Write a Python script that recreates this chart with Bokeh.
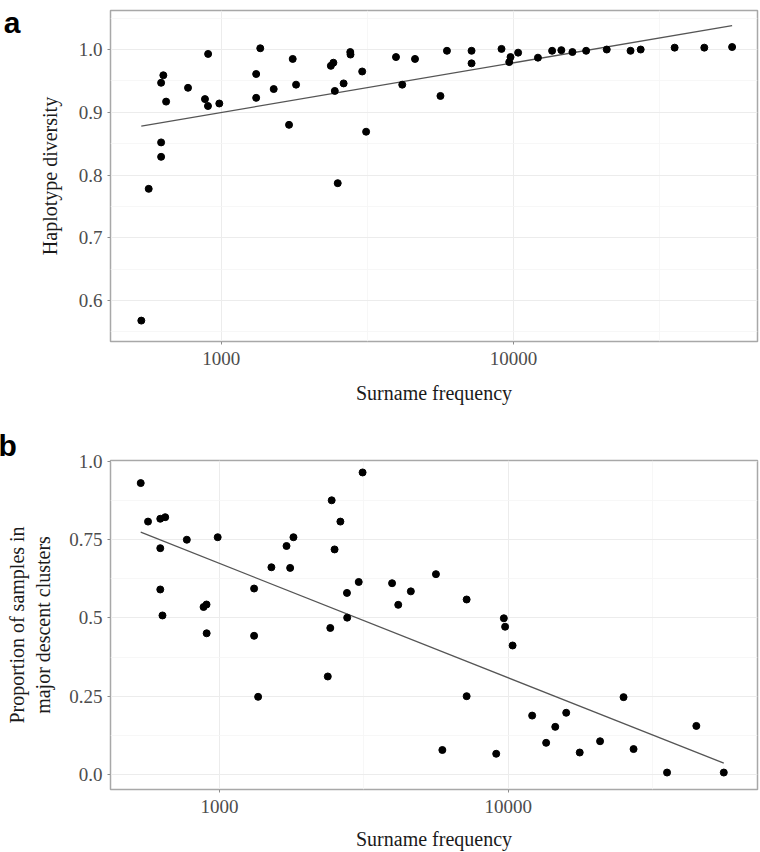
from bokeh.plotting import figure
from bokeh.models import Range1d, FixedTicker, BasicTickFormatter, LinearAxis, Title
from bokeh.layouts import column
from bokeh.embed import file_html
from bokeh.resources import INLINE

# ---------------- data ----------------
surname_freq = [533, 565, 623, 623, 623, 634, 648, 770, 880, 901, 902, 985,
                1317, 1317, 1360, 1512, 1706, 1756, 1803, 2371, 2419, 2446,
                2503, 2622, 2763, 2768, 3035, 3130, 3960, 4160, 4600, 5620,
                5915, 7180, 7180, 9090, 9660, 9760, 10360, 12110, 13540,
                14560, 15890, 17700, 20820, 25110, 27200, 35530, 44880, 55870]

haplotype_diversity = [0.568, 0.778, 0.947, 0.852, 0.829, 0.959, 0.917, 0.939,
                       0.921, 0.910, 0.993, 0.914, 0.961, 0.923, 1.002, 0.937,
                       0.880, 0.985, 0.944, 0.974, 0.979, 0.934, 0.787, 0.946,
                       0.996, 0.992, 0.965, 0.869, 0.988, 0.944, 0.985, 0.926,
                       0.998, 0.998, 0.978, 1.001, 0.980, 0.988, 0.995, 0.987,
                       0.998, 0.999, 0.996, 0.998, 1.000, 0.998, 1.000, 1.003,
                       1.003, 1.004]

prop_major_clusters = [0.931, 0.808, 0.723, 0.591, 0.817, 0.508, 0.822, 0.750,
                       0.535, 0.543, 0.451, 0.758, 0.594, 0.443, 0.248, 0.662,
                       0.730, 0.660, 0.758, 0.313, 0.468, 0.876, 0.719, 0.808,
                       0.580, 0.501, 0.615, 0.965, 0.611, 0.542, 0.585, 0.640,
                       0.078, 0.559, 0.250, 0.066, 0.499, 0.472, 0.412, 0.188,
                       0.101, 0.152, 0.197, 0.070, 0.106, 0.247, 0.081, 0.006,
                       0.155, 0.006]

# linear fit lines (values at the smallest and largest surname frequency)
fit_a_y = [0.878, 1.038]
fit_b_y = [0.774, 0.036]

x_major_ticks = [1000, 10000]
x_tick_labels = ["1000", "10000"]
x_minor_ticks = [316.23, 3162.28, 31622.78]

ya_major_ticks = [0.6, 0.7, 0.8, 0.9, 1.0]
ya_tick_labels = ["0.6", "0.7", "0.8", "0.9", "1.0"]
ya_minor_ticks = [0.55, 0.65, 0.75, 0.85, 0.95, 1.05]

yb_major_ticks = [0.0, 0.25, 0.5, 0.75, 1.0]
yb_tick_labels = ["0.0", "0.25", "0.5", "0.75", "1.0"]
yb_minor_ticks = [0.125, 0.375, 0.625, 0.875]

panel_letters = ["a", "b"]

SERIF = "Liberation Serif"
SANS = "Liberation Sans"


def style(p, xt, xl, xm, yt, yl, ym, xlabel, ylabel, xstand, ystand):
    p.background_fill_color = "white"
    p.border_fill_color = "white"
    p.outline_line_color = "#a8a8a8"
    p.outline_line_width = 1.5

    xa = p.xaxis[0]
    xa.ticker = FixedTicker(ticks=xt, minor_ticks=xm)
    xa.formatter = BasicTickFormatter(use_scientific=False)
    xa.major_label_overrides = {t: s for t, s in zip(xt, xl)}
    ya = p.yaxis[0]
    ya.ticker = FixedTicker(ticks=yt, minor_ticks=ym)
    ya.major_label_overrides = {t: s for t, s in zip(yt, yl)}

    for ax in (xa, ya):
        ax.axis_line_color = None
        ax.major_tick_line_color = "#8c8c8c"
        ax.major_tick_out = 3
        ax.major_tick_in = 0
        ax.minor_tick_out = 0
        ax.minor_tick_in = 0
        ax.major_label_text_font = SERIF
        ax.major_label_text_font_size = "19px"
        ax.major_label_text_color = "#4d4d4d"
        ax.axis_label_text_font = SERIF
        ax.axis_label_text_font_size = "20px"
        ax.axis_label_text_font_style = "normal"
        ax.axis_label_text_color = "#1a1a1a"
    xa.major_label_standoff = 7
    ya.major_label_standoff = 5
    xa.axis_label = xlabel
    ya.axis_label = ylabel
    xa.axis_label_standoff = xstand
    ya.axis_label_standoff = ystand

    for g in (p.xgrid[0], p.ygrid[0]):
        g.grid_line_color = "#ececec"
        g.grid_line_width = 1
        g.minor_grid_line_color = "#f5f5f5"
        g.minor_grid_line_width = 0.8


fit_x = [min(surname_freq), max(surname_freq)]

# ---------------- panel a ----------------
pa = figure(width=760, height=428, x_axis_type="log",
            x_range=Range1d(10 ** 2.6214, 10 ** 4.834),
            y_range=Range1d(0.5347, 1.0622),
            output_backend="svg", toolbar_location=None,
            min_border_left=108, min_border_right=3,
            min_border_top=10, min_border_bottom=87)
style(pa, x_major_ticks, x_tick_labels, x_minor_ticks,
      ya_major_ticks, ya_tick_labels, ya_minor_ticks,
      "Surname frequency", "Haplotype diversity", 14, 15)
pa.line(fit_x, fit_a_y, line_color="#555555", line_width=1.3)
pa.scatter(surname_freq, haplotype_diversity, size=7, color="black")

# panel letter "a": an outer left axis carrying a single label at the top
letter_pos_a = 1.0612
ax_a = LinearAxis(ticker=FixedTicker(ticks=[letter_pos_a], minor_ticks=[]),
                  major_label_overrides={letter_pos_a: panel_letters[0]})
ax_a.axis_line_color = None
ax_a.major_tick_line_color = None
ax_a.minor_tick_line_color = None
ax_a.major_tick_out = 0
ax_a.major_label_standoff = 15
ax_a.major_label_text_font = SANS
ax_a.major_label_text_font_style = "bold"
ax_a.major_label_text_font_size = "30px"
ax_a.major_label_text_color = "black"
pa.add_layout(ax_a, "left")

# ---------------- panel b ----------------
pb = figure(width=760, height=424, x_axis_type="log",
            x_range=Range1d(10 ** 2.622, 10 ** 4.864),
            y_range=Range1d(-0.0482, 1.0032),
            output_backend="svg", toolbar_location=None,
            min_border_left=108, min_border_right=3,
            min_border_top=0, min_border_bottom=63)
style(pb, x_major_ticks, x_tick_labels, x_minor_ticks,
      yb_major_ticks, yb_tick_labels, yb_minor_ticks,
      "Surname frequency", "Proportion of samples in\nmajor descent clusters", 12, 12)
pb.line(fit_x, fit_b_y, line_color="#555555", line_width=1.3)
pb.scatter(surname_freq, prop_major_clusters, size=7, color="black")
pb.title = Title(text=panel_letters[1], align="left", offset=-112, standoff=-3,
                 text_font=SANS, text_font_style="bold", text_font_size="30px",
                 text_color="black")

layout = column(pa, pb, spacing=0)
open("out.html", "w").write(file_html(layout, INLINE))
